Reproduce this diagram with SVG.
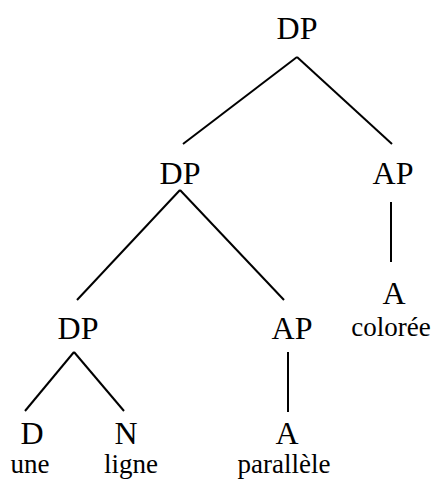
<svg xmlns="http://www.w3.org/2000/svg" width="433" height="479" viewBox="0 0 433 479">
<style>
text{font-family:'Liberation Serif','Times New Roman',Times,serif;fill:#000;text-anchor:middle}
.cat{font-size:32px}
.wd{font-size:27px}
.edges line{stroke:#000;stroke-width:2;fill:none}
</style>
<rect width="433" height="479" fill="#fff"/>
<g id="edges" class="edges">
<line x1="297" y1="57" x2="183" y2="144"/>
<line x1="297" y1="57" x2="392" y2="144"/>
<line x1="180" y1="190" x2="77" y2="300"/>
<line x1="180" y1="190" x2="284" y2="300"/>
<line x1="391" y1="202" x2="391" y2="262"/>
<line x1="74" y1="352" x2="25" y2="411"/>
<line x1="74" y1="352" x2="124" y2="411"/>
<line x1="288" y1="352" x2="288" y2="412"/>
</g>
<g id="dp1"><text class="cat" x="297" y="39">DP</text></g>
<g id="dp2"><text class="cat" x="180" y="184">DP</text></g>
<g id="ap2"><text class="cat" x="393" y="184">AP</text></g>
<g id="a2"><text class="cat" x="394" y="304">A</text><text class="wd" x="391" y="336">colorée</text></g>
<g id="dp3"><text class="cat" x="78" y="339">DP</text></g>
<g id="ap3"><text class="cat" x="292" y="339">AP</text></g>
<g id="d"><text class="cat" x="32" y="444">D</text><text class="wd" x="30" y="473">une</text></g>
<g id="n"><text class="cat" x="126" y="444">N</text><text class="wd" x="131" y="473">ligne</text></g>
<g id="a3"><text class="cat" x="287" y="444">A</text><text class="wd" x="284" y="473">parallèle</text></g>
</svg>
